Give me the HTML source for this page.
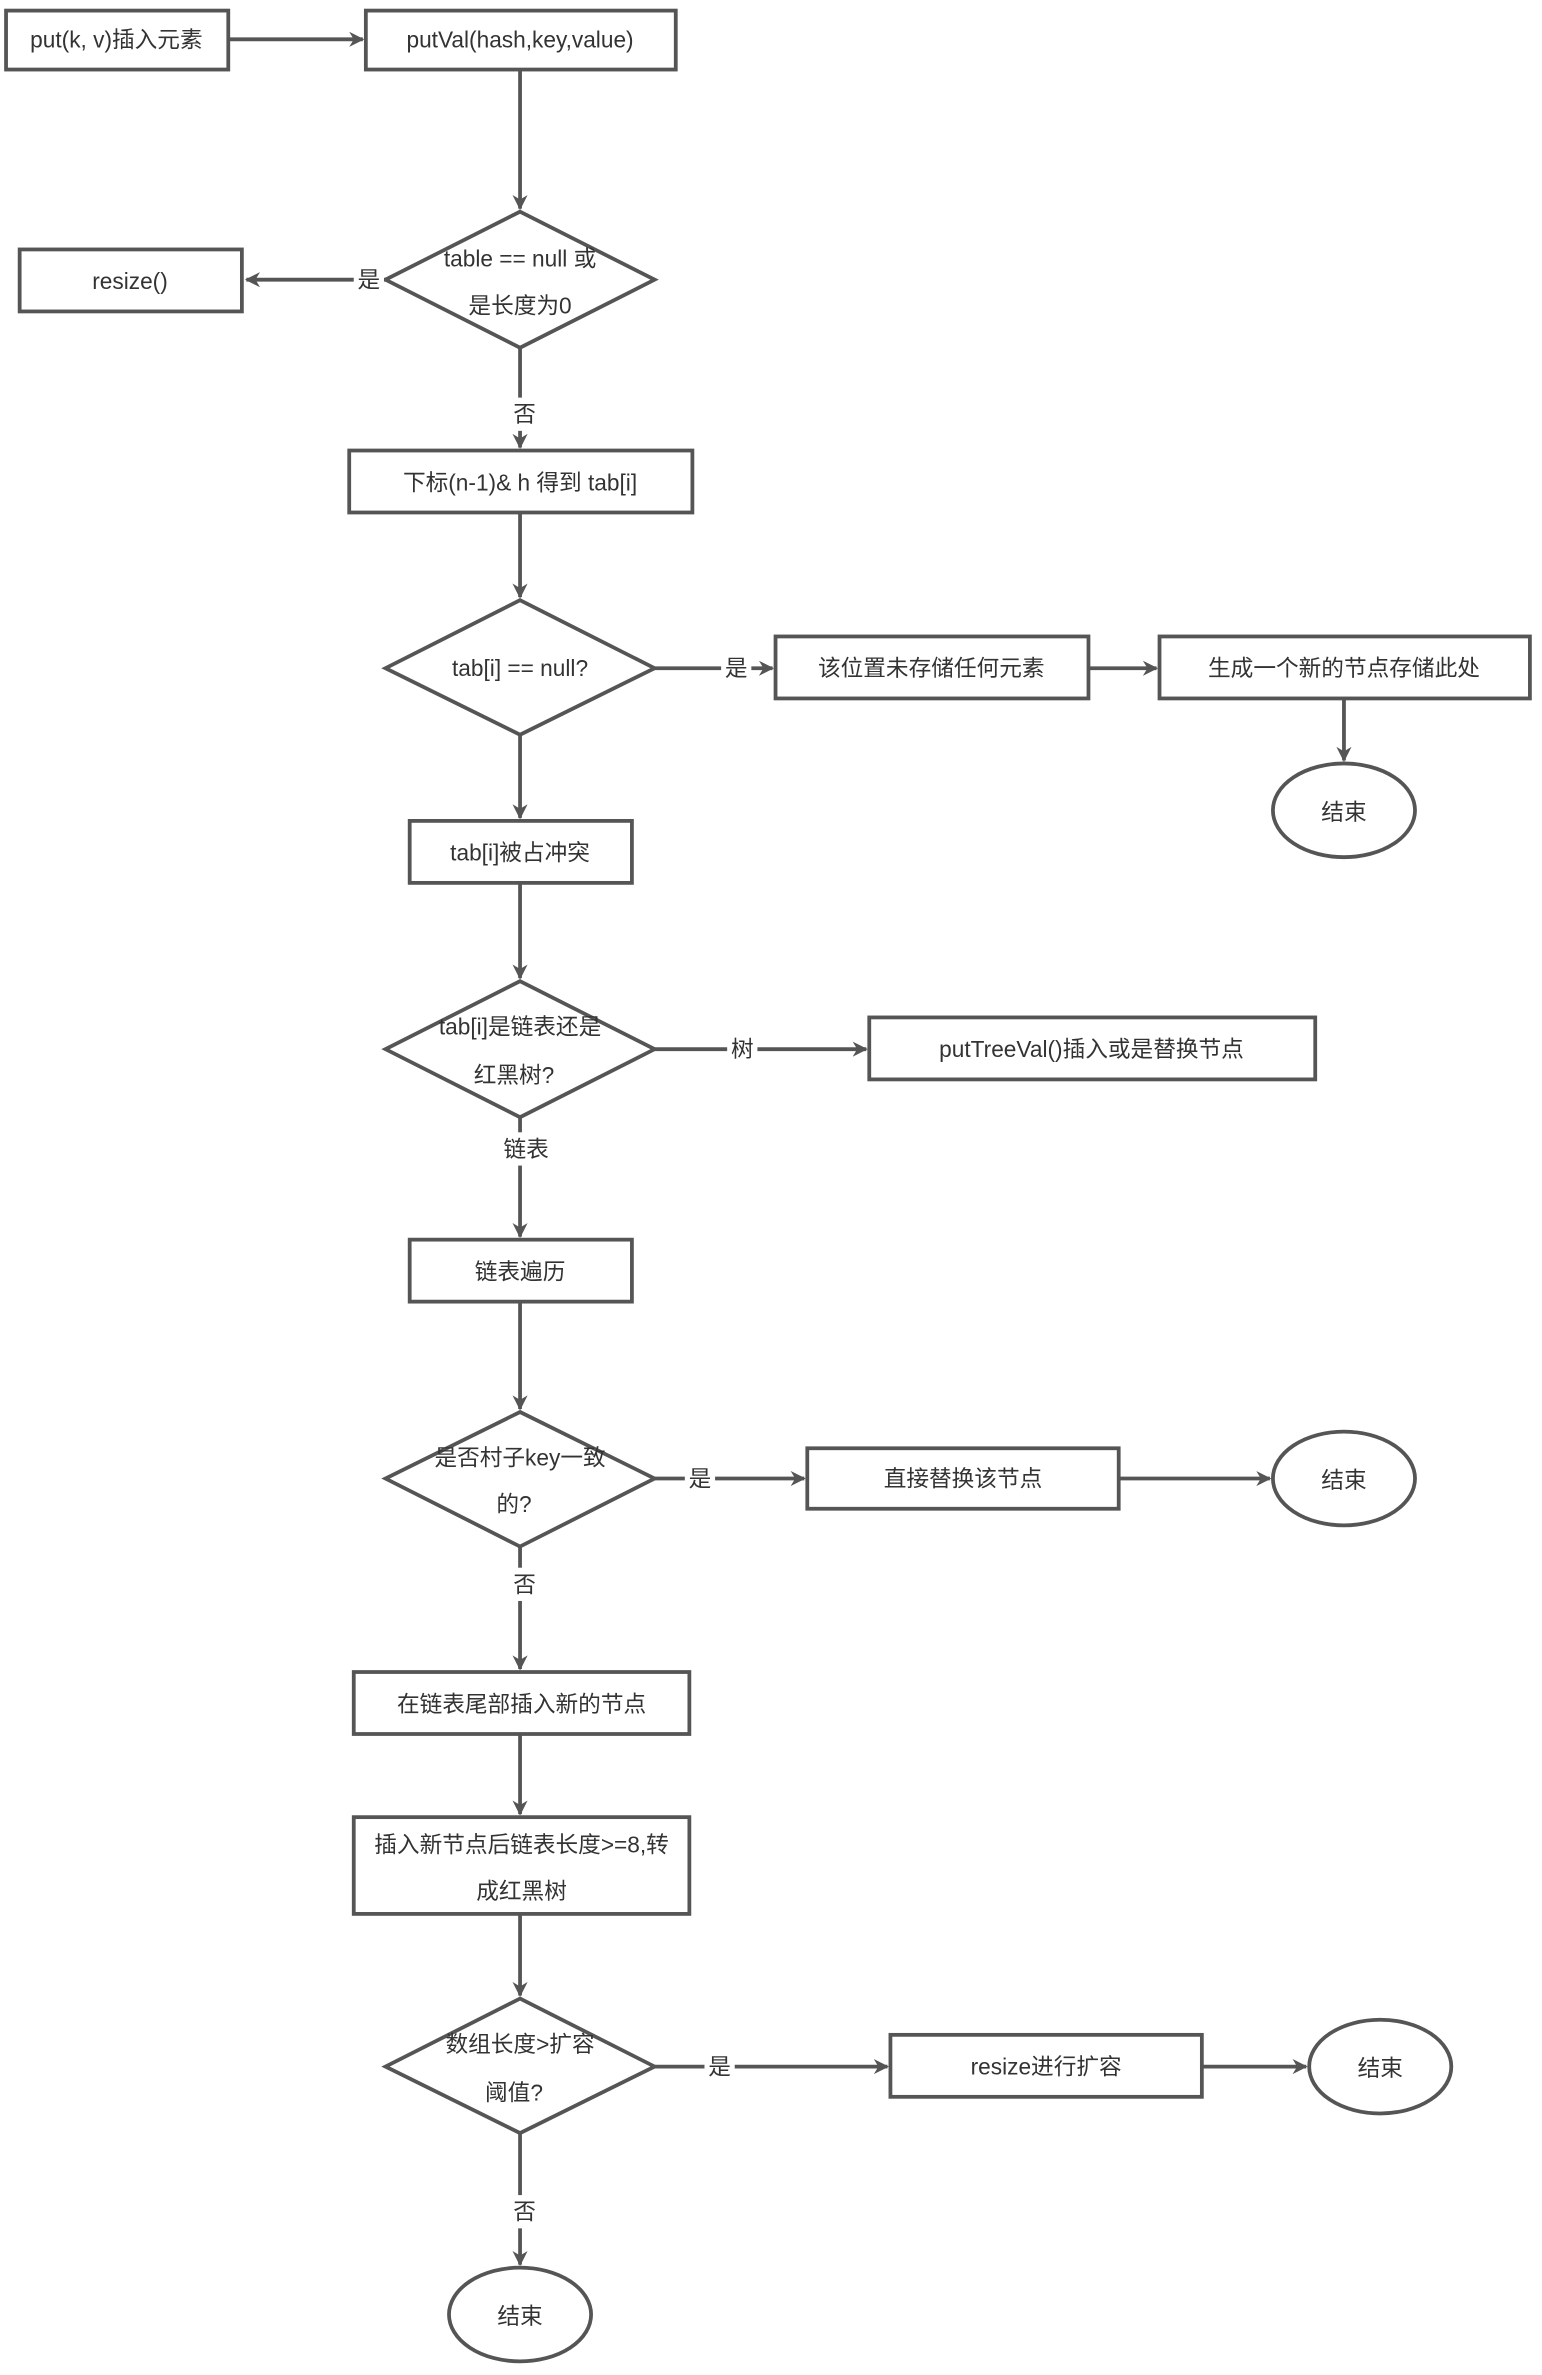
<!DOCTYPE html>
<html><head><meta charset="utf-8"><style>
html,body{margin:0;padding:0;background:#fff;}
svg{display:block;}
text{font-family:"Liberation Sans","Noto Sans CJK SC",sans-serif;font-size:15px;fill:#333;text-anchor:middle;dominant-baseline:central;}
</style></head><body>
<svg width="1542" height="2375" viewBox="0 0 1020 1571" xmlns="http://www.w3.org/2000/svg">
<defs><marker id="a" markerWidth="10" markerHeight="10" refX="9" refY="5" orient="auto" markerUnits="userSpaceOnUse"><path d="M0,0 L10,5 L0,10 L3,5 z" fill="#555"/></marker></defs>
<g fill="none" stroke="#555" stroke-width="2.5">
<rect x="4" y="7" width="147" height="39" fill="#fff"/>
<rect x="242" y="7" width="205" height="39" fill="#fff"/>
<polygon points="344,140 433,185 344,230 255,185" fill="#fff"/>
<rect x="13" y="165" width="147" height="41"/>
<rect x="231" y="298" width="227" height="41"/>
<polygon points="344,397 433,442 344,486 255,442"/>
<rect x="513" y="421" width="207" height="41"/>
<rect x="767" y="421" width="245" height="41"/>
<ellipse cx="889" cy="536" rx="47" ry="31"/>
<rect x="271" y="543" width="147" height="41"/>
<polygon points="344,649 433,694 344,739 255,694"/>
<rect x="575" y="673" width="295" height="41"/>
<rect x="271" y="820" width="147" height="41"/>
<polygon points="344,934 433,978 344,1023 255,978"/>
<rect x="534" y="958" width="206" height="40"/>
<ellipse cx="889" cy="978" rx="47" ry="31"/>
<rect x="234" y="1106" width="222" height="41"/>
<rect x="234" y="1202" width="222" height="64"/>
<polygon points="344,1322 433,1367 344,1411 255,1367"/>
<rect x="589" y="1346" width="206" height="41"/>
<ellipse cx="913" cy="1367" rx="47" ry="31"/>
<ellipse cx="344" cy="1531" rx="47" ry="31"/>
</g>
<g stroke="#555" stroke-width="2.5" marker-end="url(#a)">
<line x1="151" y1="26" x2="240" y2="26"/>
<line x1="344" y1="46" x2="344" y2="138"/>
<line x1="255" y1="185" x2="163" y2="185"/>
<line x1="344" y1="230" x2="344" y2="296"/>
<line x1="344" y1="339" x2="344" y2="395"/>
<line x1="433" y1="442" x2="511" y2="442"/>
<line x1="720" y1="442" x2="765" y2="442"/>
<line x1="889" y1="462" x2="889" y2="503"/>
<line x1="344" y1="486" x2="344" y2="541"/>
<line x1="344" y1="584" x2="344" y2="647"/>
<line x1="433" y1="694" x2="573" y2="694"/>
<line x1="344" y1="739" x2="344" y2="818"/>
<line x1="344" y1="861" x2="344" y2="932"/>
<line x1="433" y1="978" x2="532" y2="978"/>
<line x1="740" y1="978" x2="840" y2="978"/>
<line x1="344" y1="1023" x2="344" y2="1104"/>
<line x1="344" y1="1147" x2="344" y2="1200"/>
<line x1="344" y1="1266" x2="344" y2="1320"/>
<line x1="433" y1="1367" x2="587" y2="1367"/>
<line x1="795" y1="1367" x2="864" y2="1367"/>
<line x1="344" y1="1411" x2="344" y2="1498"/>
</g>
<g fill="#fff">
<rect x="234" y="175" width="20" height="20"/>
<rect x="336" y="263" width="20" height="22"/>
<rect x="477" y="432" width="20" height="20"/>
<rect x="481" y="684" width="20" height="20"/>
<rect x="328" y="749" width="40" height="22"/>
<rect x="453" y="968" width="20" height="20"/>
<rect x="336" y="1037" width="20" height="22"/>
<rect x="466" y="1357" width="20" height="20"/>
<rect x="336" y="1452" width="20" height="22"/>
</g>
<text x="77" y="26">put(k, v)插入元素</text>
<text x="344" y="26">putVal(hash,key,value)</text>
<text x="344" y="171">table ==  null 或</text>
<text x="344" y="202">是长度为0</text>
<text x="86" y="186">resize()</text>
<text x="244" y="185">是</text>
<text x="347" y="274">否</text>
<text x="344" y="319">下标(n-1)&amp; h 得到 tab[i]</text>
<text x="344" y="442">tab[i] == null?</text>
<text x="487" y="442">是</text>
<text x="616" y="442">该位置未存储任何元素</text>
<text x="889" y="442">生成一个新的节点存储此处</text>
<text x="889" y="537">结束</text>
<text x="344" y="564">tab[i]被占冲突</text>
<text x="344" y="679">tab[i]是链表还是</text>
<text x="340" y="711">红黑树?</text>
<text x="491" y="694">树</text>
<text x="722" y="694">putTreeVal()插入或是替换节点</text>
<text x="348" y="760">链表</text>
<text x="344" y="841">链表遍历</text>
<text x="344" y="964">是否村子key一致</text>
<text x="340" y="995">的?</text>
<text x="463" y="978">是</text>
<text x="637" y="978">直接替换该节点</text>
<text x="889" y="979">结束</text>
<text x="347" y="1048">否</text>
<text x="345" y="1127">在链表尾部插入新的节点</text>
<text x="345" y="1220">插入新节点后链表长度&gt;=8,转</text>
<text x="345" y="1251">成红黑树</text>
<text x="344" y="1352">数组长度&gt;扩容</text>
<text x="340" y="1384">阈值?</text>
<text x="476" y="1367">是</text>
<text x="692" y="1367">resize进行扩容</text>
<text x="913" y="1368">结束</text>
<text x="347" y="1463">否</text>
<text x="344" y="1532">结束</text>
</svg>
</body></html>
